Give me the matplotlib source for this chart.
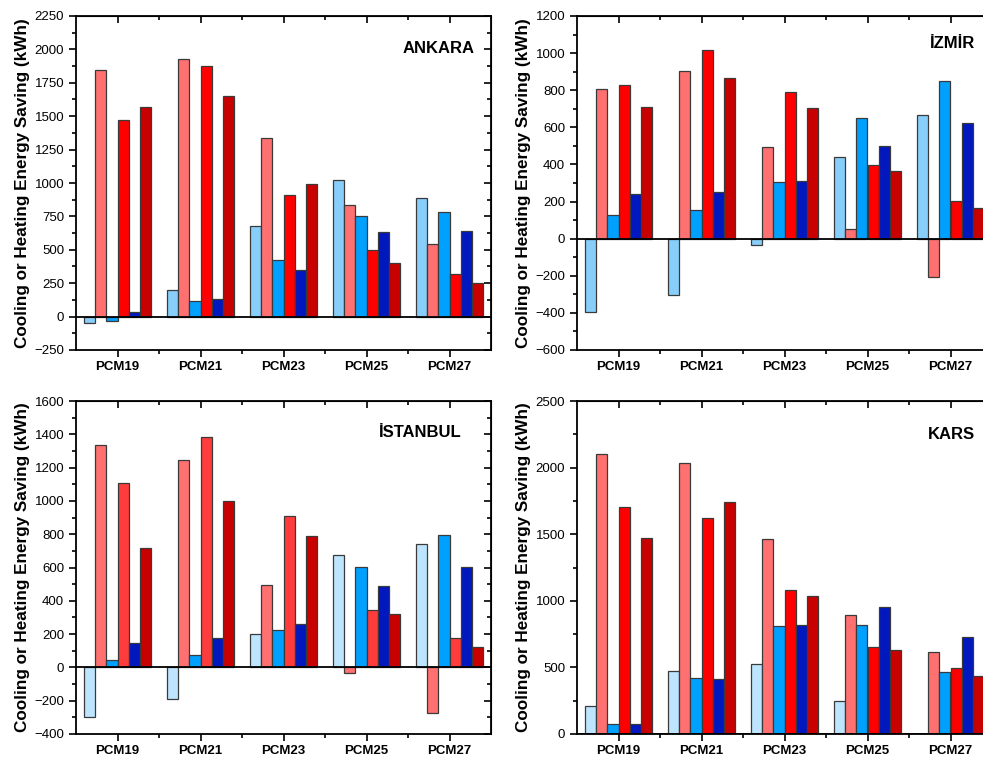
import numpy as np
import matplotlib
matplotlib.use("Agg")
import matplotlib.pyplot as plt

plt.rcParams["font.family"] = ["Liberation Sans", "DejaVu Sans"]

groups = ["PCM19", "PCM21", "PCM23", "PCM25", "PCM27"]

# bar order in every group: light blue, salmon, mid blue, red, dark blue, dark red
ankara_lb = [-50, 200, 680, 1021, 884]
ankara_sa = [1845, 1931, 1336, 837, 547]
ankara_mb = [-30, 114, 425, 755, 785]
ankara_rd = [1468, 1874, 907, 496, 321]
ankara_db = [32, 129, 351, 635, 640]
ankara_dr = [1572, 1654, 995, 402, 251]

izmir_lb = [-395, -303, -34, 440, 664]
izmir_sa = [806, 903, 494, 50, -206]
izmir_mb = [127, 154, 305, 648, 852]
izmir_rd = [827, 1018, 793, 397, 205]
izmir_db = [242, 251, 309, 502, 626]
izmir_dr = [709, 865, 702, 363, 167]

istanbul_lb = [-295, -190, 200, 673, 741]
istanbul_sa = [1334, 1248, 495, -35, -272]
istanbul_mb = [42, 75, 223, 601, 797]
istanbul_rd = [1110, 1384, 909, 343, 175]
istanbul_db = [147, 176, 263, 487, 601]
istanbul_dr = [719, 998, 787, 319, 120]

kars_lb = [210, 475, 527, 250, 0]
kars_sa = [2105, 2038, 1461, 892, 619]
kars_mb = [75, 417, 812, 817, 465]
kars_rd = [1706, 1621, 1079, 652, 492]
kars_db = [75, 412, 817, 957, 727]
kars_dr = [1469, 1738, 1034, 627, 437]

panels = [
    ("ANKARA", [ankara_lb, ankara_sa, ankara_mb, ankara_rd, ankara_db, ankara_dr],
     (-250, 2250, 250), "#87CEFA", "#FF0000"),
    ("İZMİR", [izmir_lb, izmir_sa, izmir_mb, izmir_rd, izmir_db, izmir_dr],
     (-600, 1200, 200), "#87CEFA", "#FF0000"),
    ("İSTANBUL", [istanbul_lb, istanbul_sa, istanbul_mb, istanbul_rd, istanbul_db, istanbul_dr],
     (-400, 1600, 200), "#BDE5FF", "#FF3C3C"),
    ("KARS", [kars_lb, kars_sa, kars_mb, kars_rd, kars_db, kars_dr],
     (0, 2500, 500), "#BDE5FF", "#FF0000"),
]

# axes boxes in pixels: left, top, right, bottom
boxes = [(76, 16, 491, 350), (577, 16, 992, 350),
         (76, 401, 491, 734), (577, 401, 992, 734)]
label_pos = [(0.961, 0.904), (0.959, 0.919), (0.930, 0.904), (0.959, 0.90)]

W, H = 983, 757
fig = plt.figure(figsize=(W / 100, H / 100), dpi=100)

x = np.arange(1, len(groups) + 1)
bw = 0.8 / 6

for (name, series, (lo, hi, step), c_lb, c_rd), (l, t, r, b), (tx, ty) in zip(panels, boxes, label_pos):
    ax = fig.add_axes([l / W, 1 - b / H, (r - l) / W, (b - t) / H])
    colors = [c_lb, "#FF7070", "#00A0FF", c_rd, "#0018BE", "#C80000"]
    for k, (vals, col) in enumerate(zip(series, colors)):
        ax.bar(x + (k - 2.5) * bw, vals, width=bw, color=col,
               edgecolor="#3a3a3a", linewidth=0.9, zorder=2)
    ax.axhline(0, color="black", lw=1.3, zorder=3)

    ax.set_xlim(0.5, 5.5)
    ax.set_ylim(lo, hi)
    ax.set_xticks(x)
    ax.set_xticklabels(groups, fontsize=10.8, fontweight="bold")
    ax.set_xticks(x[:-1] + 0.5, minor=True)
    yt = np.arange(lo, hi + 1, step)
    ax.set_yticks(yt)
    ax.set_yticks(yt[:-1] + step / 2, minor=True)
    ax.tick_params(axis="both", which="both", direction="out", labelsize=9.5, width=1.2)
    ax.tick_params(which="major", length=5)
    ax.tick_params(which="minor", length=3)
    ax.tick_params(axis="x", pad=3)
    for s in ax.spines.values():
        s.set_linewidth(1.3)

    # mirrored ticks pointing inward on top and right
    top = ax.secondary_xaxis("top")
    top.set_xticks(x)
    top.set_xticks(x[:-1] + 0.5, minor=True)
    top.tick_params(which="both", direction="in", labeltop=False, width=1.2)
    top.tick_params(which="major", length=5)
    top.tick_params(which="minor", length=3)
    right = ax.secondary_yaxis("right")
    right.set_yticks(yt)
    right.set_yticks(yt[:-1] + step / 2, minor=True)
    right.tick_params(which="both", direction="in", labelright=False, width=1.2)
    right.tick_params(which="major", length=5)
    right.tick_params(which="minor", length=3)

    ax.set_ylabel("Cooling or Heating Energy Saving (kWh)", fontsize=12.3,
                  fontweight="bold", labelpad=3)
    ax.text(tx, ty, name, transform=ax.transAxes, ha="right", va="center",
            fontsize=12, fontweight="bold")

fig.savefig("out.png", dpi=100)
